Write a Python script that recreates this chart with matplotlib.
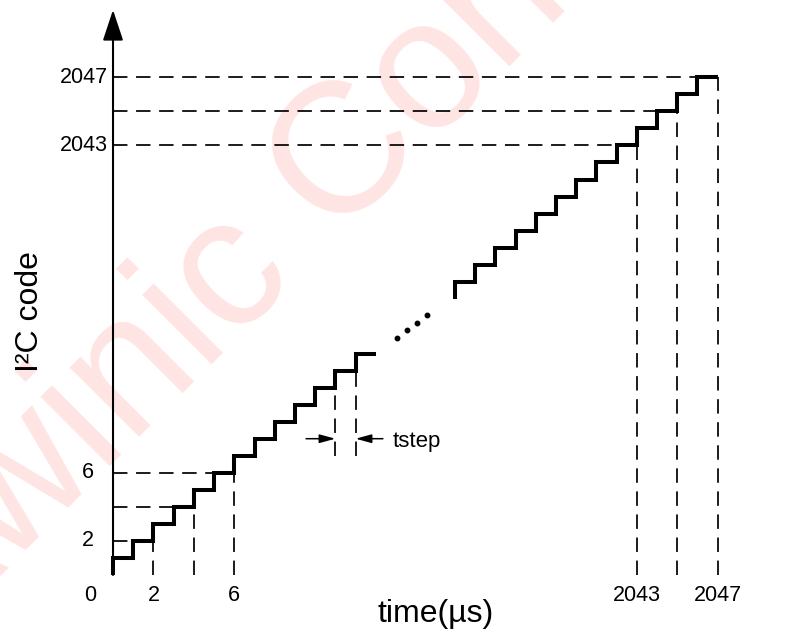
import matplotlib.pyplot as plt

plt.rcParams['font.family'] = ['Liberation Sans', 'DejaVu Sans']
plt.rcParams['lines.scale_dashes'] = False

# lower part of the ramp: time (us) and I2C code
low_time = [0, 0, 1, 2, 3, 4, 5, 6, 7, 8, 9, 10, 11, 12, 13]
low_code = [0, 1, 2, 3, 4, 5, 6, 7, 8, 9, 10, 11, 12, 13, 13]

# upper part of the ramp
high_time = [2034, 2034, 2035, 2036, 2037, 2038, 2039, 2040, 2041, 2042,
             2043, 2044, 2045, 2046, 2047]
high_code = [2034, 2035, 2036, 2037, 2038, 2039, 2040, 2041, 2042, 2043,
             2044, 2045, 2046, 2047, 2047]

# codes marked with dashed guide lines
guide_marks = [2, 4, 6, 2043, 2045, 2047]
x_ticks = [2, 6, 2043, 2047]
y_ticks = [2, 6, 2043, 2047]

# tstep marker sits between these two steps
tstep_from, tstep_to = 11, 12

# the "..." between both parts (schematic positions)
dots_t = [14.05, 14.54, 15.03, 15.53]
dots_c = [13.92, 14.39, 14.80, 15.27]

# the axes are broken between the two parts
T_GAP = 2017.09
C_GAP = 2017.78


def tx(t):
    return t - T_GAP if t > 1000 else t


def cy(c):
    return c - C_GAP if c > 1000 else c


fig = plt.figure(figsize=(8.05, 6.32), dpi=100)
ax = fig.add_axes([0, 0, 1, 1])
ax.set_xlim(-5.59, 34.23)
ax.set_ylim(-3.35, 33.76)
ax.axis('off')

# watermark
fig.text(-0.096, -0.034, 'Awinic Confidential', fontsize=133, color='#ffe4e4',
         rotation=45, rotation_mode='anchor', ha='left', va='baseline', zorder=-1)

# staircases
stair = dict(color='k', lw=2.9, solid_joinstyle='miter', solid_capstyle='butt')
ax.step(low_time, low_code, where='post', **stair)
ax.step([tx(t) for t in high_time], [cy(c) for c in high_code], where='post', **stair)

# dashed guides
dash = dict(color='k', lw=1.25, dashes=(10.4, 6.2))
for m in guide_marks:
    ax.plot([tx(m), tx(m)], [0, cy(m)], **dash)
    ax.plot([0, tx(m - 1)], [cy(m), cy(m)], **dash)

# tstep annotation
ax.plot([tstep_from, tstep_from], [7, tstep_from], **dash)
ax.plot([tstep_to, tstep_to], [7, tstep_to], **dash)
small = dict(arrowstyle='-|>,head_length=0.95,head_width=0.26', color='k', lw=1.1,
             shrinkA=0, shrinkB=0, mutation_scale=10)
ax.annotate('', xy=(tstep_from, 8), xytext=(9.55, 8), arrowprops=small)
ax.annotate('', xy=(tstep_to, 8), xytext=(13.35, 8), arrowprops=small)
ax.text(13.85, 7.5, 'tstep', fontsize=16, ha='left', va='baseline')

ax.plot(dots_t, dots_c, 'o', color='k', ms=3.2, ls='none')

# axes with arrow heads
ax.annotate('', xy=(0, 33.18), xytext=(0, 0),
            arrowprops=dict(arrowstyle='-|>,head_length=1.9,head_width=0.63',
                            color='k', lw=1.5, shrinkA=0, shrinkB=0, mutation_scale=10))
ax.annotate('', xy=(34.3, 0), xytext=(0, 0),
            arrowprops=dict(arrowstyle='-|>,head_length=1.35,head_width=0.56',
                            color='k', lw=1.5, shrinkA=0, shrinkB=0, mutation_scale=10))

# tick labels
ax.text(-1.14, -1.2, '0', fontsize=15.5, ha='center', va='center')
for t in x_ticks:
    ax.text(tx(t), -1.2, str(t), fontsize=15.5, ha='center', va='center')
for c in y_ticks:
    xr = -0.94 if c < 1000 else -0.24
    ax.text(xr, cy(c), str(c), fontsize=15.5, ha='right', va='center')

ax.text(15.97, -2.3, 'time(µs)', fontsize=23, ha='center', va='center')
ax.text(-4.1, 15.44, 'I²C code', fontsize=23, ha='center', va='center', rotation=90)

fig.savefig('out.png', dpi=100)
